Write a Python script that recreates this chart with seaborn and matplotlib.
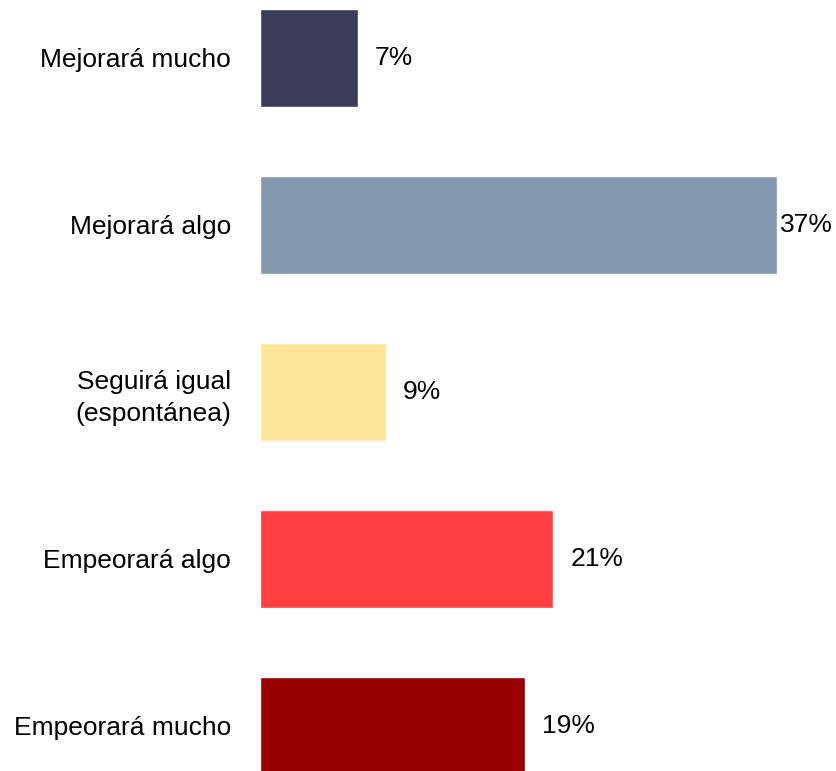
import matplotlib
matplotlib.use("Agg")
import matplotlib.pyplot as plt
import seaborn as sns
import pandas as pd

# Data
categories = ["Mejorará mucho", "Mejorará algo", "Seguirá igual\n(espontánea)",
              "Empeorará algo", "Empeorará mucho"]
values = [7, 37, 9, 21, 19]
colors = ["#3a3c5a", "#8498b0", "#fde598", "#ff3f42", "#990000"]

df = pd.DataFrame({"categoria": categories, "valor": values})

sns.set_style("white")
plt.rcParams["font.family"] = ["Liberation Sans", "DejaVu Sans"]

fig = plt.figure(figsize=(8.37, 7.71), dpi=100)
ax = fig.add_axes([260 / 837, 0, 1 - 260 / 837, 1])

sns.barplot(data=df, x="valor", y="categoria", hue="categoria", palette=colors,
            legend=False, width=0.59, saturation=1, ax=ax)

xmax = 41.3
for i, v in enumerate(values):
    # the longest bar has no room for the usual gap
    gap = 1.2 if v + 5 < xmax else 0.2
    ax.text(v + gap, i, f"{v}%", va="center", ha="left", fontsize=19, color="black")

ax.set_xlim(0, xmax)
ax.set_ylim(4.27, -0.347)
ax.set_xlabel("")
ax.set_ylabel("")
ax.set_xticks([])
ax.tick_params(axis="y", length=0, pad=21, labelsize=19, labelcolor="black")
for lbl in ax.get_yticklabels():
    lbl.set_horizontalalignment("right")
    lbl.set_linespacing(1.4)
sns.despine(ax=ax, left=True, bottom=True)

fig.savefig("out.png", dpi=100)
